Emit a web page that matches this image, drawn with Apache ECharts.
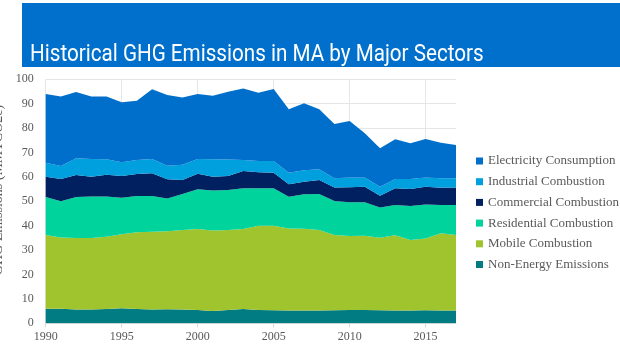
<!DOCTYPE html>
<html>
<head>
<meta charset="utf-8">
<script src="https://cdn.jsdelivr.net/npm/echarts@6/dist/echarts.min.js"></script>
<style>
html,body{margin:0;padding:0;background:#fff;}
#chart{width:620px;height:349px;}
</style>
</head>
<body>
<div id="chart"></div>
<script>
var years = ['1990','1991','1992','1993','1994','1995','1996','1997','1998','1999','2000','2001','2002','2003','2004','2005','2006','2007','2008','2009','2010','2011','2012','2013','2014','2015','2016','2017'];
var nonEnergy   = [6.0,6.0,5.7,5.7,5.9,6.2,5.9,5.7,5.8,5.7,5.5,5.0,5.5,5.9,5.5,5.3,5.2,5.2,5.2,5.3,5.5,5.4,5.3,5.2,5.2,5.3,5.2,5.2];
var mobile      = [30.2,29.2,29.3,29.3,29.6,30.3,31.4,31.8,31.9,32.5,33.1,33.0,32.7,32.7,34.5,34.7,33.7,33.6,33.0,30.9,30.3,30.5,29.8,30.9,28.9,29.5,31.7,31.0];
var residential = [15.6,14.8,16.8,17.0,16.5,15.0,14.9,14.7,13.4,14.8,16.3,16.4,16.4,16.7,15.3,15.3,13.0,14.1,14.8,13.9,13.8,13.7,12.4,12.4,14.0,13.9,11.6,12.3];
var commercial  = [8.3,9.1,9.0,8.1,8.9,8.9,9.0,9.3,7.9,5.7,6.4,5.7,5.8,7.1,6.6,6.4,5.1,5.1,5.7,5.6,6.2,6.4,4.8,6.8,6.9,7.3,7.1,7.2];
var industrial  = [5.7,5.4,6.8,7.2,6.3,5.6,5.7,5.8,5.6,6.3,6.0,7.1,6.7,4.5,4.6,4.8,4.7,4.7,4.4,3.7,4.0,3.8,3.7,3.8,4.1,3.8,3.8,3.7];
var electricity = [28.2,28.4,27.2,25.6,25.7,24.6,24.3,28.6,29.0,27.5,26.7,26.1,27.8,29.3,28.0,29.5,26.0,27.5,24.6,22.3,23.1,18.1,15.7,16.3,14.7,15.7,14.6,13.7];
var seriesNames = ['Non-Energy Emissions','Mobile Combustion','Residential Combustion','Commercial Combustion','Industrial Combustion','Electricity Consumption'];
var seriesData = [nonEnergy, mobile, residential, commercial, industrial, electricity];
var seriesColors = ['#017C82','#A0C42D','#00D39B','#002060','#009FDD','#006FCB'];
var legendOrder = ['Electricity Consumption','Industrial Combustion','Commercial Combustion','Residential Combustion','Mobile Combustion','Non-Energy Emissions'];

var chart = echarts.init(document.getElementById('chart'), null, {renderer:'canvas'});
var serif = '"Liberation Serif", "DejaVu Serif", serif';
var option = {
  animation: false,
  backgroundColor: '#ffffff',
  grid: {left: 45.7, right: 164, top: 79.3, bottom: 25.7, containLabel: false},
  xAxis: {
    type: 'category', data: years, boundaryGap: false,
    axisLine: {show: true, lineStyle: {color: '#d9d9d9'}},
    axisTick: {show: true, interval: 4, length: 4, lineStyle: {color: '#d9d9d9'}},
    axisLabel: {interval: 4, color: '#595959', fontFamily: serif, fontSize: 12, margin: 8},
    splitLine: {show: true, interval: 4, lineStyle: {color: '#e6e6e6'}}
  },
  yAxis: {
    type: 'value', min: 0, max: 100, interval: 10,
    axisLine: {show: false}, axisTick: {show: false},
    axisLabel: {color: '#595959', fontFamily: serif, fontSize: 12, margin: 12},
    splitLine: {show: true, lineStyle: {color: '#e6e6e6'}}
  },
  legend: {
    orient: 'vertical', left: 471, top: 149,
    data: legendOrder,
    icon: 'rect', itemWidth: 7, itemHeight: 7, itemGap: 6.7,
    textStyle: {color: '#595959', fontFamily: serif, fontSize: 13, lineHeight: 14}
  },
  graphic: [
    {type: 'rect', shape: {x: 22, y: 3, width: 598, height: 64}, style: {fill: '#0070CC'}, silent: true},
    {type: 'text', x: 30, y: 55, scaleX: 0.86, style: {text: 'Historical GHG Emissions in MA by Major Sectors', fill: '#ffffff', font: '24px "Roboto", "Liberation Sans", sans-serif', verticalAlign: 'middle'}},
    {type: 'text', x: -2, y: 190, rotation: Math.PI/2, style: {text: 'GHG Emissions (MMTCO2e)', fill: '#595959', font: '14px "Liberation Serif", serif', align: 'center', verticalAlign: 'middle'}}
  ],
  series: seriesNames.map(function(n, i){
    return {
      name: n, type: 'line', stack: 'total', data: seriesData[i],
      symbol: 'none', smooth: false,
      lineStyle: {width: 0}, areaStyle: {color: seriesColors[i], opacity: 1},
      itemStyle: {color: seriesColors[i]}
    };
  })
};
chart.setOption(option);
</script>
</body>
</html>
